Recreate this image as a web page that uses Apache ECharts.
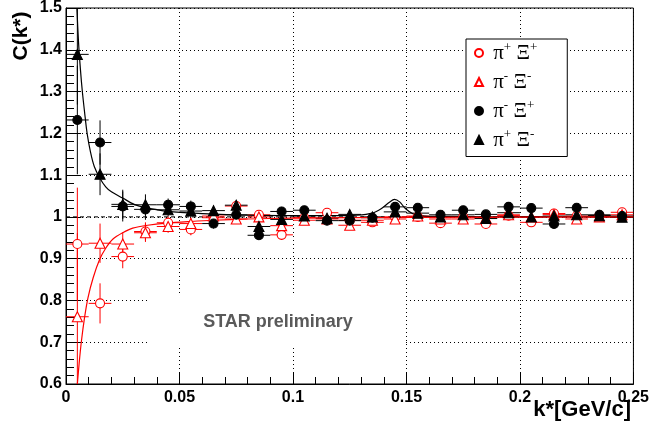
<!DOCTYPE html>
<html>
<head>
<meta charset="utf-8">
<script src="https://cdn.jsdelivr.net/npm/echarts@6/dist/echarts.min.js"></script>
<style>
html,body{margin:0;padding:0;background:#fff;}
#chart{width:652px;height:430px;}
</style>
</head>
<body>
<div id="chart"></div>
<script>
// ---- data ----
const kCenters = [0.005,0.015,0.025,0.035,0.045,0.055,0.065,0.075,0.085,0.095,0.105,0.115,0.125,0.135,0.145,0.155,0.165,0.175,0.185,0.195,0.205,0.215,0.225,0.235,0.245];
const binHalfWidth = 0.005;

const piPlusXiPlus    = [0.935,0.793,0.905,0.965,0.986,0.970,0.998,1.026,1.005,0.957,0.998,1.010,0.992,0.987,1.000,1.000,0.985,1.000,0.983,1.003,0.987,1.008,1.002,1.003,1.011];
const piPlusXiPlusErr = [0.135,0.048,0.028,0.022,0.015,0.014,0.012,0.012,0.011,0.011,0.010,0.010,0.010,0.010,0.010,0.010,0.010,0.010,0.010,0.010,0.010,0.010,0.010,0.010,0.010];

const piMinusXiMinus    = [0.761,0.937,0.935,0.962,0.977,0.984,1.002,0.995,1.000,0.979,0.992,0.995,0.980,0.992,0.995,1.002,0.995,0.995,0.998,1.005,1.000,1.006,0.995,1.000,1.005];
const piMinusXiMinusErr = [0.200,0.047,0.028,0.022,0.015,0.014,0.012,0.012,0.011,0.011,0.010,0.010,0.010,0.010,0.010,0.010,0.010,0.010,0.010,0.010,0.010,0.010,0.010,0.010,0.010];

const piMinusXiPlus    = [1.232,1.178,1.025,1.018,1.029,1.025,0.984,1.005,0.956,1.013,1.016,0.991,0.991,0.998,1.024,1.022,1.005,1.016,1.006,1.024,1.021,0.983,1.022,1.005,1.002];
const piMinusXiPlusErr = [0.130,0.053,0.036,0.025,0.015,0.014,0.012,0.012,0.011,0.011,0.010,0.010,0.010,0.010,0.010,0.010,0.010,0.010,0.010,0.010,0.010,0.010,0.010,0.010,0.010];

const piPlusXiMinus    = [1.389,1.102,1.030,1.029,1.017,1.014,1.015,1.028,0.977,0.994,1.002,0.997,1.006,1.000,1.012,1.009,1.000,1.005,0.996,1.010,1.000,1.002,1.005,1.003,0.999];
const piPlusXiMinusErr = [0.120,0.050,0.035,0.025,0.016,0.015,0.012,0.012,0.011,0.011,0.010,0.010,0.010,0.010,0.010,0.010,0.010,0.010,0.010,0.010,0.010,0.010,0.010,0.010,0.010];

// fit curves, points
const blackFitK = [0.0048,0.0055,0.0064,0.0072,0.0082,0.0093,0.0108,0.0125,0.015,0.0175,0.02,0.025,0.03,0.035,0.045,0.06,0.08,0.1,0.12,0.128,0.135,0.139,0.1425,0.1447,0.147,0.1495,0.153,0.158,0.17,0.2,0.25];
const blackFitC = [1.50,1.42,1.35,1.30,1.25,1.20,1.155,1.12,1.092,1.072,1.060,1.045,1.030,1.022,1.013,1.008,1.004,1.003,1.003,1.004,1.009,1.020,1.035,1.042,1.036,1.020,1.007,1.002,1.001,1.000,1.000];
const redFitK = [0.005,0.0058,0.0068,0.0082,0.0097,0.012,0.0149,0.0175,0.0207,0.025,0.0294,0.036,0.0442,0.055,0.065,0.08,0.1,0.15,0.25];
const redFitC = [0.60,0.65,0.703,0.76,0.807,0.855,0.899,0.925,0.947,0.962,0.973,0.980,0.985,0.989,0.992,0.995,0.997,0.999,1.000];

const baselineK = [0, 0.25];
const baselineC = [1, 1];

const xTickValues = [0, 0.05, 0.1, 0.15, 0.2, 0.25];
const xTickLabels = ['0', '0.05', '0.1', '0.15', '0.2', '0.25'];
const yTickValues = [0.6, 0.7, 0.8, 0.9, 1.0, 1.1, 1.2, 1.3, 1.4, 1.5];
const yTickLabels = ['0.6', '0.7', '0.8', '0.9', '1', '1.1', '1.2', '1.3', '1.4', '1.5'];

const seriesNames = ['π+ Ξ+', 'π- Ξ-', 'π- Ξ+', 'π+ Ξ-'];

// ---- chart ----
const RED = '#ff0000', BLACK = '#000000';
const Y_MIN = 0.6, Y_MAX = 1.5;

function lookup(values, labels, v) {
  const i = values.findIndex(t => Math.abs(t - v) < 1e-6);
  return i >= 0 ? labels[i] : '';
}
function pts(xs, ys) { return xs.map((x, i) => [x, ys[i]]); }
function errPts(vals, errs) { return kCenters.map((k, i) => [k, vals[i], errs[i]]); }

function errorSeries(vals, errs, color) {
  return {
    type: 'custom',
    silent: true,
    z: 3,
    data: errPts(vals, errs),
    encode: { x: 0, y: 1 },
    renderItem: function (params, api) {
      const x = api.value(0), y = api.value(1), e = api.value(2);
      const lo = Math.max(Y_MIN, y - e), hi = Math.min(Y_MAX, y + e);
      const a = api.coord([x - binHalfWidth, y]);
      const b = api.coord([x + binHalfWidth, y]);
      const c = api.coord([x, lo]);
      const d = api.coord([x, hi]);
      const st = { stroke: color, lineWidth: 1 };
      return {
        type: 'group',
        children: [
          { type: 'line', shape: { x1: a[0], y1: a[1], x2: b[0], y2: b[1] }, style: st },
          { type: 'line', shape: { x1: c[0], y1: c[1], x2: d[0], y2: d[1] }, style: st }
        ]
      };
    }
  };
}

function markerSeries(name, vals, symbol, size, fill, border) {
  return {
    name: name,
    type: 'scatter',
    z: 5,
    symbol: symbol,
    symbolSize: size,
    data: pts(kCenters, vals),
    itemStyle: { color: fill, borderColor: border, borderWidth: 1.1, opacity: 1 }
  };
}

const axisFont = { fontFamily: 'Liberation Sans', fontWeight: 'bold', fontSize: 16, color: '#000' };
const dotted = { show: true, lineStyle: { color: '#000', type: [1, 3], width: 1 } };

const legendFormatter = function (name) {
  return '{g| }' + name.split(' ').map(part => '{g|' + part[0] + '}{s|' + part.slice(1) + '}').join('{g| }');
};

const option = {
  animation: false,
  backgroundColor: '#fff',
  grid: { left: 66, right: 16, top: 7, bottom: 46, show: true, borderColor: '#000', borderWidth: 1, backgroundColor: 'transparent' },
  xAxis: {
    type: 'value', min: 0, max: 0.25, interval: 0.05,
    axisLine: { show: true, lineStyle: { color: '#000', width: 1 } },
    axisTick: { show: true, inside: true, length: 12, lineStyle: { color: '#000' } },
    minorTick: { show: true, splitNumber: 5, length: 7, lineStyle: { color: '#000' } },
    splitLine: dotted,
    axisLabel: Object.assign({ margin: 6, formatter: v => lookup(xTickValues, xTickLabels, v) }, axisFont)
  },
  yAxis: {
    type: 'value', min: 0.6, max: 1.5, interval: 0.1,
    axisLine: { show: true, lineStyle: { color: '#000', width: 1 } },
    axisTick: { show: true, inside: true, length: 15, lineStyle: { color: '#000' } },
    minorTick: { show: true, splitNumber: 5, length: 8, lineStyle: { color: '#000' } },
    splitLine: dotted,
    axisLabel: Object.assign({ margin: 4, formatter: v => lookup(yTickValues, yTickLabels, v) }, axisFont)
  },
  legend: {
    data: seriesNames,
    orient: 'vertical',
    left: 466, top: 39,
    padding: [2, 30, 6, 8],
    itemGap: 6.5,
    itemWidth: 8, itemHeight: 8,
    backgroundColor: '#fff',
    borderColor: '#000', borderWidth: 1,
    borderRadius: 0,
    selectedMode: false,
    formatter: legendFormatter,
    textStyle: {
      color: '#000',
      rich: {
        g: { fontFamily: 'Liberation Serif', fontSize: 21, lineHeight: 24, color: '#000' },
        s: { fontFamily: 'Liberation Serif', fontSize: 13, lineHeight: 13, verticalAlign: 'top', color: '#000' }
      }
    }
  },
  graphic: [
    { type: 'rect', z: 10, shape: { x: 150, y: 295, width: 256, height: 52 }, style: { fill: '#fff' } },
    { type: 'text', z: 11, x: 278, y: 322, style: { text: 'STAR preliminary', fill: '#5a5a5a', font: 'bold 18px "Liberation Sans"', align: 'center', verticalAlign: 'middle' } },
    { type: 'text', z: 11, x: 21, y: 36, rotation: Math.PI / 2, style: { text: 'C(k*)', fill: '#000', font: 'bold 21px "Liberation Sans"', align: 'center', verticalAlign: 'middle' } },
    { type: 'text', z: 11, x: 631, y: 410, style: { text: 'k*[GeV/c]', fill: '#000', font: 'bold 22px "Liberation Sans"', align: 'right', verticalAlign: 'middle' } }
  ],
  series: [
    { type: 'line', silent: true, z: 2, symbol: 'none', data: pts(baselineK, baselineC), lineStyle: { color: '#000', width: 1, type: [4, 3] } },
    { type: 'line', silent: true, z: 4, symbol: 'none', smooth: 0.3, data: pts(blackFitK, blackFitC), lineStyle: { color: BLACK, width: 1.2 } },
    { type: 'line', silent: true, z: 4, symbol: 'none', smooth: 0.3, data: pts(redFitK, redFitC), lineStyle: { color: RED, width: 1.2 } },
    errorSeries(piPlusXiPlus, piPlusXiPlusErr, RED),
    errorSeries(piMinusXiMinus, piMinusXiMinusErr, RED),
    errorSeries(piMinusXiPlus, piMinusXiPlusErr, BLACK),
    errorSeries(piPlusXiMinus, piPlusXiMinusErr, BLACK),
    markerSeries(seriesNames[0], piPlusXiPlus, 'circle', 9, '#fff', RED),
    markerSeries(seriesNames[1], piMinusXiMinus, 'triangle', 10, '#fff', RED),
    markerSeries(seriesNames[2], piMinusXiPlus, 'circle', 9, BLACK, BLACK),
    markerSeries(seriesNames[3], piPlusXiMinus, 'triangle', 10, BLACK, BLACK)
  ]
};

const chart = echarts.init(document.getElementById('chart'), null, { renderer: 'canvas' });
chart.setOption(option);
</script>
</body>
</html>
